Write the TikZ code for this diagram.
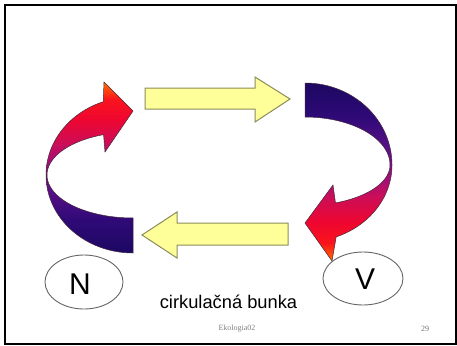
\documentclass[tikz,border=0pt]{standalone}
\usepackage{fontspec}
\setmainfont{Liberation Sans}
\newfontfamily\footfont{Liberation Serif}
\usetikzlibrary{shapes.geometric}
\definecolor{c1}{RGB}{28,8,98}
\definecolor{c2}{RGB}{48,10,120}
\definecolor{c3}{RGB}{92,16,136}
\definecolor{c4}{RGB}{146,16,128}
\definecolor{c5}{RGB}{204,14,88}
\definecolor{c6}{RGB}{238,6,48}
\definecolor{c7}{RGB}{250,20,28}
\definecolor{c8}{RGB}{255,112,0}
\definecolor{yel}{RGB}{255,255,153}
\definecolor{yeledge}{RGB}{140,140,90}
\definecolor{ribedge}{RGB}{70,40,60}
\pgfdeclareverticalshading{ribbon}{100bp}{color(0bp)=(c1); color(25bp)=(c1); color(35bp)=(c2); color(44bp)=(c3); color(50bp)=(c4); color(57bp)=(c5); color(64bp)=(c6); color(70bp)=(c7); color(75bp)=(c8); color(100bp)=(c8)}
\tikzset{
  yarrow/.style={fill=yel, draw=yeledge, line width=1pt, line join=miter},
  ribshape/.style={shading=ribbon, draw=ribedge, line width=0.5pt, line join=miter},
  oval/.style={ellipse, draw=black!60, line width=0.9pt, inner sep=0pt},
  bigletter/.style={font=\fontsize{30}{32}\selectfont, inner sep=0pt},
}
\begin{document}
\begin{tikzpicture}[x=1pt,y=-1pt]
\useasboundingbox (0,0) rectangle (457,345);
\fill[white] (0,0) rectangle (457,345);
\draw[black, line width=2pt] (4.5,5.5) rectangle (455.5,343.5);

% yellow arrows
\draw[yarrow] (145,88) -- (255,88) -- (255,77) -- (290,99) -- (255,122) -- (255,109) -- (145,109) -- cycle;
\draw[yarrow] (288,223) -- (177,223) -- (177,212) -- (142,235) -- (177,258) -- (177,245) -- (288,245) -- cycle;

% left curved arrow
\shade[ribshape]
  plot[domain=90:250, samples=50, variable=\t] ({133+87*cos(\t)},{175+78*sin(\t)})
  -- (104,82) -- (133,111) -- (105,152)
  -- plot[domain=250:90, samples=50, variable=\t] ({133+86*cos(\t)},{175+43*sin(\t)})
  -- cycle;

% right curved arrow
\shade[ribshape, shading angle=180]
  plot[domain=-90:0, samples=40, variable=\t] ({305+87*cos(\t)},{165+82*sin(\t)})
  -- plot[domain=0:69, samples=40, variable=\t] ({305+87*cos(\t)},{165+77*sin(\t)})
  -- (332,261) -- (305,223) -- (333,185)
  -- plot[domain=69:0, samples=40, variable=\t] ({305+85*cos(\t)},{165+40.6*sin(\t)})
  -- plot[domain=0:-90, samples=40, variable=\t] ({305+85*cos(\t)},{165+48*sin(\t)})
  -- cycle;

% ovals
\node[oval, minimum width=78pt, minimum height=54pt] (nov) at (84,282) {};
\node[bigletter] (nlab) at (80,284) {N};
\node[oval, minimum width=80pt, minimum height=53pt] (vov) at (363,278.5) {};
\node[bigletter] (vlab) at (365,279) {V};

% caption
\node[font=\fontsize{18.3}{20}\selectfont, anchor=base, inner sep=0pt] (cap) at (228.5,308) {cirkulačná bunka};

% footer
\node[font=\footfont\fontsize{8}{9}\selectfont, text=black!50, inner sep=0pt] (foot) at (237,329) {Ekologia02};
\node[font=\footfont\fontsize{8}{9}\selectfont, text=black!55, inner sep=0pt] (pg) at (425,329) {29};
\end{tikzpicture}
\end{document}
